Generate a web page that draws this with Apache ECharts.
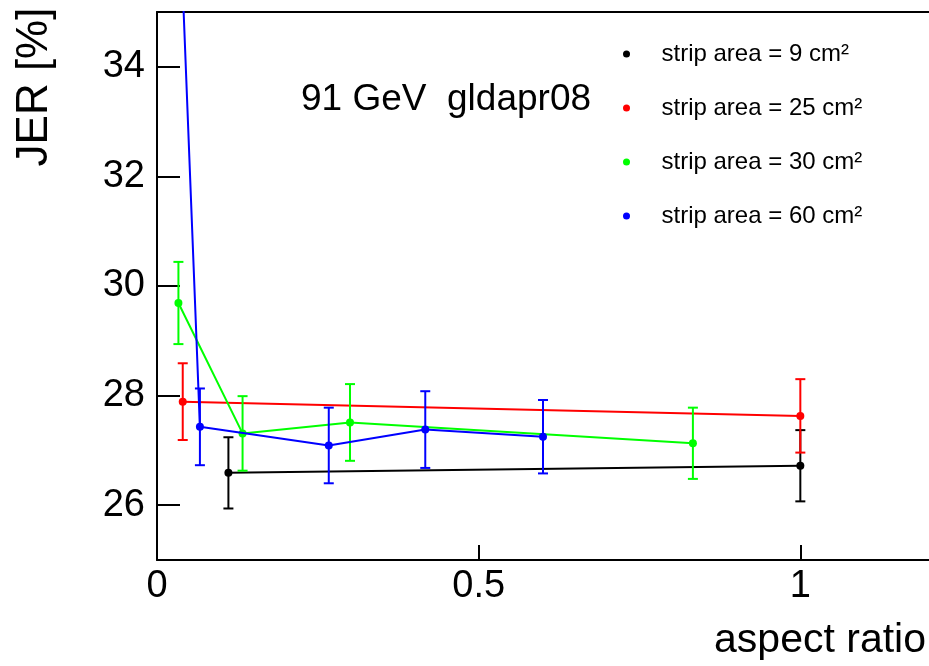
<!DOCTYPE html>
<html>
<head>
<meta charset="utf-8">
<style>
  html, body { margin: 0; padding: 0; background: #ffffff; }
  #chart { width: 929px; height: 666px; }
</style>
<script src="https://cdn.jsdelivr.net/npm/echarts@6/dist/echarts.min.js"></script>
</head>
<body>
<div id="chart"></div>
<script>
// ---- data ----
const seriesNames = ['strip area = 9 cm²', 'strip area = 25 cm²', 'strip area = 30 cm²', 'strip area = 60 cm²'];
const seriesColors = ['#000000', '#ff0000', '#00ff00', '#0000ff'];

const x9 = [0.111, 1.0];
const y9 = [26.59, 26.72];
const e9 = [0.65, 0.65];

const x25 = [0.04, 1.0];
const y25 = [27.89, 27.63];
const e25 = [0.70, 0.67];

const x30 = [0.0333, 0.133, 0.3, 0.833];
const y30 = [29.69, 27.31, 27.51, 27.13];
const e30 = [0.75, 0.68, 0.70, 0.65];

const x60 = [0.0167, 0.0667, 0.267, 0.417, 0.6];
const y60 = [42.4, 27.43, 27.09, 27.38, 27.25];
const e60 = [0.8, 0.70, 0.69, 0.70, 0.67];

const xTicks = [0, 0.5, 1];
const yTicks = [26, 28, 30, 32, 34];
const xRange = [0, 1.2];
const yRange = [25, 35];

const yTitle = 'JER [%]';
const xTitle = 'aspect ratio';
const annotation = '91 GeV  gldapr08';

// ---- build ----
const groups = [
  [x9, y9, e9], [x25, y25, e25], [x30, y30, e30], [x60, y60, e60]
];

const FONT = '"Liberation Sans", Arial, Helvetica, sans-serif';

function zip3(xs, ys, es) {
  return xs.map((x, i) => [x, ys[i], es[i]]);
}

function errRender(color) {
  return function (params, api) {
    const x = api.value(0), y = api.value(1), e = api.value(2);
    const top = api.coord([x, y + e]);
    const bot = api.coord([x, y - e]);
    const hw = 5;
    const cs = params.coordSys;
    const st = { stroke: color, lineWidth: 2 };
    return {
      type: 'group',
      clipPath: { type: 'rect', shape: { x: cs.x, y: cs.y, width: cs.width, height: cs.height } },
      children: [
        { type: 'line', shape: { x1: top[0], y1: top[1], x2: bot[0], y2: bot[1] }, style: st },
        { type: 'line', shape: { x1: top[0] - hw, y1: top[1], x2: top[0] + hw, y2: top[1] }, style: st },
        { type: 'line', shape: { x1: bot[0] - hw, y1: bot[1], x2: bot[0] + hw, y2: bot[1] }, style: st }
      ]
    };
  };
}

const series = [];
groups.forEach((g, i) => {
  const data = zip3(g[0], g[1], g[2]);
  series.push({
    name: seriesNames[i],
    type: 'custom',
    renderItem: errRender(seriesColors[i]),
    data: data,
    encode: { x: 0, y: 1 },
    z: 2 + i * 2,
    silent: true
  });
  series.push({
    name: seriesNames[i],
    type: 'line',
    data: data.map(d => [d[0], d[1]]),
    symbol: 'circle',
    symbolSize: 8,
    showSymbol: true,
    clip: true,
    lineStyle: { color: seriesColors[i], width: 2 },
    itemStyle: { color: seriesColors[i] },
    z: 3 + i * 2,
    animation: false
  });
});

const chart = echarts.init(document.getElementById('chart'));
chart.setOption({
  backgroundColor: '#ffffff',
  animation: false,
  textStyle: { fontFamily: FONT },
  grid: { left: 157, right: 0, top: 12, bottom: 106, containLabel: false },
  legend: {
    orient: 'vertical',
    left: 618,
    top: 37,
    icon: 'circle',
    itemWidth: 60,
    itemHeight: 7,
    itemGap: 30,
    selectedMode: false,
    data: seriesNames.map((n, i) => ({ name: n, itemStyle: { color: seriesColors[i] } })),
    textStyle: { fontFamily: FONT, fontSize: 24, color: '#000000', lineHeight: 24 }
  },
  xAxis: [{
    type: 'value',
    min: xRange[0],
    max: xRange[1],
    position: 'bottom',
    axisLine: { show: true, onZero: false, lineStyle: { color: '#000', width: 2 } },
    axisTick: { show: true, inside: true, length: 15, customValues: xTicks, lineStyle: { color: '#000', width: 2 } },
    axisLabel: { customValues: xTicks, fontSize: 38, color: '#000', margin: 8, fontFamily: FONT },
    splitLine: { show: false }
  }, {
    type: 'value',
    min: xRange[0],
    max: xRange[1],
    position: 'top',
    axisLine: { show: true, onZero: false, lineStyle: { color: '#000', width: 2 } },
    axisTick: { show: false },
    axisLabel: { show: false },
    splitLine: { show: false }
  }],
  yAxis: {
    type: 'value',
    min: yRange[0],
    max: yRange[1],
    axisLine: { show: true, onZero: false, lineStyle: { color: '#000', width: 2 } },
    axisTick: { show: true, inside: true, length: 23, customValues: yTicks, lineStyle: { color: '#000', width: 2 } },
    axisLabel: { customValues: yTicks, fontSize: 38, color: '#000', margin: 12, fontFamily: FONT },
    splitLine: { show: false }
  },
  graphic: [
    {
      type: 'text', x: 35, y: 87, rotation: Math.PI / 2,
      style: { text: yTitle, font: '44px ' + FONT, fill: '#000', align: 'center', verticalAlign: 'middle' }
    },
    {
      type: 'text', x: 926, y: 641,
      style: { text: xTitle, font: '41px ' + FONT, fill: '#000', align: 'right', verticalAlign: 'middle' }
    },
    {
      type: 'text', x: 301, y: 100,
      style: { text: annotation, font: '37px ' + FONT, fill: '#000', align: 'left', verticalAlign: 'middle' }
    }
  ],
  series: series
});
</script>
</body>
</html>
